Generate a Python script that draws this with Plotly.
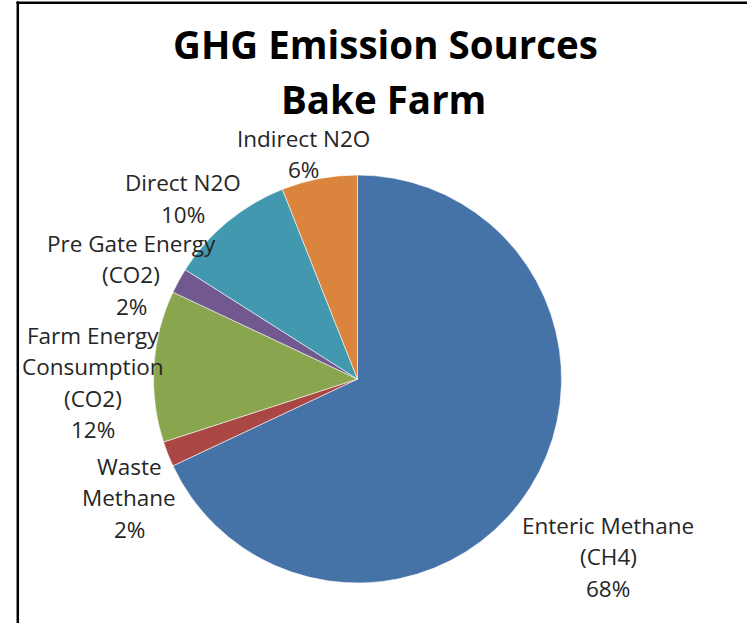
import plotly.graph_objects as go

W, H = 747, 623

# ---- data ----
categories = ["Enteric Methane (CH4)", "Waste Methane", "Farm Energy Consumption (CO2)",
              "Pre Gate Energy (CO2)", "Direct N2O", "Indirect N2O"]
values = [68, 2, 12, 2, 10, 6]
label_lines = [
    ["Enteric Methane", "(CH4)"],
    ["Waste", "Methane"],
    ["Farm Energy", "Consumption", "(CO2)"],
    ["Pre Gate Energy", "(CO2)"],
    ["Direct N2O"],
    ["Indirect N2O"],
]
colors = ["#4572A7", "#AA4643", "#89A54E", "#71588F", "#4198AF", "#DB843D"]
title_lines = ["GHG Emission Sources", "Bake Farm"]

# ---- layout helpers (pixel -> paper) ----
def px(x):
    return x / W

def py(y):
    return 1 - y / H

cx, cy, r = 357.5, 379, 204

fig = go.Figure(go.Pie(
    labels=categories,
    values=values,
    sort=False,
    direction="clockwise",
    rotation=0,
    marker=dict(colors=colors, line=dict(color="rgba(255,255,255,0.7)", width=0.8)),
    textinfo="none",
    hoverinfo="label+percent",
    showlegend=False,
    domain=dict(x=[px(cx - r), px(cx + r)], y=[py(cy + r), py(cy - r)]),
))

annotations = []
# title
title_pos = [(385, 44), (384, 99.5)]
for t, (x, y) in zip(title_lines, title_pos):
    annotations.append(dict(text="<b>%s</b>" % t, x=px(x), y=py(y), xref="paper", yref="paper",
                            xanchor="center", yanchor="middle", showarrow=False,
                            font=dict(family="Open Sans", size=38.5, color="#000000")))

# slice labels: (center x, y of first line)
label_pos = [(608, 525), (129, 466), (93, 335), (131, 243), (183, 183), (303, 138)]
spacing = 31.5
total = sum(values)
for lines, v, (x, y0) in zip(label_lines, values, label_pos):
    all_lines = lines + ["%d%%" % round(100 * v / total)]
    for i, line in enumerate(all_lines):
        annotations.append(dict(text=line, x=px(x), y=py(y0 + i * spacing), xref="paper", yref="paper",
                                xanchor="center", yanchor="middle", showarrow=False,
                                font=dict(family="Open Sans", size=22.5, color="#262626")))

shapes = [
    dict(type="line", xref="paper", yref="paper", x0=px(17.8), x1=px(17.8), y0=0, y1=py(1.6),
         line=dict(color="black", width=2.5)),
    dict(type="line", xref="paper", yref="paper", x0=px(16.5), x1=1, y0=py(2.8), y1=py(2.8),
         line=dict(color="black", width=2.5)),
]

fig.update_layout(
    width=W, height=H,
    margin=dict(l=0, r=0, t=0, b=0),
    paper_bgcolor="white", plot_bgcolor="white",
    annotations=annotations,
    shapes=shapes,
)

fig.write_html("out.html")
